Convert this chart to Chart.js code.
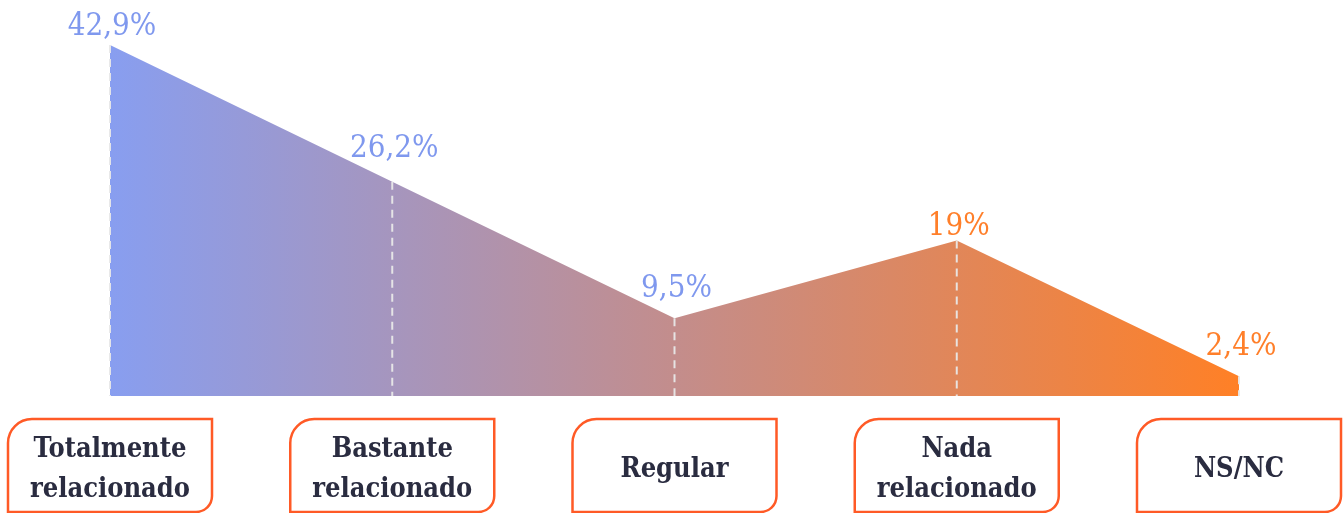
<!DOCTYPE html>
<html>
<head>
<meta charset="utf-8">
<script src="https://cdn.jsdelivr.net/npm/chart.js@4"></script>
<style>
  html, body { margin: 0; padding: 0; background: #fff; }
</style>
</head>
<body>
<canvas id="myChart" width="1344" height="513"></canvas>
<script>
const categories = [
    ["Totalmente", "relacionado"],
    ["Bastante", "relacionado"],
    ["Regular"],
    ["Nada", "relacionado"],
    ["NS/NC"],
];
const values = [42.9, 26.2, 9.5, 19, 2.4];
const valueLabels = ["42,9%", "26,2%", "9,5%", "19%", "2,4%"];
const labelColors = ["#7f98ee", "#7f98ee", "#7f98ee", "#ff7f2a", "#ff7f2a"];
const labelGaps = [10, 25, 21, 6, 21];

const FONT = "'DejaVu Serif Condensed', 'DejaVu Serif', serif";
const ctx = document.getElementById('myChart').getContext("2d");

// horizontal gradient across the plot area
function areaFill(context) {
    const area = context.chart.chartArea;
    if (!area) return "#c08d8e";
    const g = context.chart.ctx.createLinearGradient(area.left, 0, area.right, 0);
    g.addColorStop(0, "rgb(136,158,240)");
    g.addColorStop(0.5, "rgb(195,141,140)");
    g.addColorStop(1, "rgb(255,128,38)");
    return g;
}

function roundBox(c, x, y, w, h, rTL, rBR) {
    c.beginPath();
    c.moveTo(x, y + h);
    c.lineTo(x, y + rTL);
    c.arcTo(x, y, x + rTL, y, rTL);
    c.lineTo(x + w, y);
    c.lineTo(x + w, y + h - rBR);
    c.arcTo(x + w, y + h, x + w - rBR, y + h, rBR);
    c.lineTo(x, y + h);
    c.closePath();
}

const decorations = {
    id: 'decorations',
    afterDatasetsDraw(chart) {
        const c = chart.ctx;
        const meta = chart.getDatasetMeta(0);
        const base = chart.scales.y.getPixelForValue(0);
        c.save();
        // dashed drop lines
        c.strokeStyle = "rgba(232,232,232,0.95)";
        c.lineWidth = 2;
        c.setLineDash([8, 6]);
        meta.data.forEach(pt => {
            c.beginPath();
            c.moveTo(pt.x, pt.y);
            c.lineTo(pt.x, base);
            c.stroke();
        });
        c.setLineDash([]);
        // value labels
        c.font = "31px " + FONT;
        c.textAlign = "center";
        c.textBaseline = "alphabetic";
        meta.data.forEach((pt, i) => {
            c.fillStyle = labelColors[i];
            c.fillText(valueLabels[i], pt.x + 2, pt.y - labelGaps[i]);
        });
        // category boxes
        const bw = 204, top = 419, bh = 93;
        meta.data.forEach((pt, i) => {
            const x = pt.x - bw / 2;
            roundBox(c, x, top, bw, bh, 24, 16);
            c.fillStyle = "#fff";
            c.fill();
            c.strokeStyle = "#ff5a26";
            c.lineWidth = 2.5;
            c.stroke();
            c.fillStyle = "#2a2c40";
            c.font = "bold 27px " + FONT;
            const lines = categories[i];
            const lh = 40;
            const mid = 477;
            lines.forEach((t, j) => {
                const yy = mid + (j - (lines.length - 1) / 2) * lh;
                c.fillText(t, pt.x, yy);
            });
        });
        c.restore();
    }
};

const myChart = new Chart(ctx, {
    type: 'line',
    data: {
        labels: categories.map(l => l.join(" ")),
        datasets: [{
            data: values,
            fill: 'origin',
            backgroundColor: areaFill,
            borderWidth: 0,
            pointRadius: 0,
            tension: 0,
        }],
    },
    options: {
        responsive: false,
        animation: false,
        layout: { padding: { left: 110, right: 105, top: 45, bottom: 117 } },
        scales: {
            x: { display: false },
            y: { display: false, min: 0, max: 42.9 },
        },
        plugins: {
            legend: { display: false },
            tooltip: { enabled: false },
        },
    },
    plugins: [decorations],
});
</script>
</body>
</html>
